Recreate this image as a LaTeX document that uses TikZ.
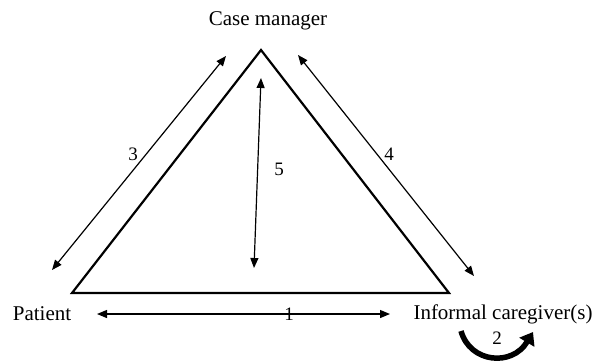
\documentclass[tikz,border=0pt]{standalone}
\usepackage{fontspec}
\setmainfont{Liberation Serif}
\usetikzlibrary{arrows.meta}
\begin{document}
\begin{tikzpicture}[x=1pt,y=-1pt,
  lbl/.style={font=\fontsize{21}{24}\selectfont, inner sep=0pt},
  num/.style={font=\fontsize{19}{22}\selectfont, inner sep=0pt},
  link/.style={line width=1.2pt, {Triangle[length=10pt,width=8pt]}-{Triangle[length=10pt,width=8pt]}},
  tri/.style={line width=2.2pt, line join=miter}]
\useasboundingbox (0,0) rectangle (597,360);
\coordinate (A) at (261,50);
\coordinate (B) at (72,293);
\coordinate (C) at (449,293);
\draw[tri] (A) -- (B) -- (C) -- cycle;
\node[lbl] (cm) at (268,21) {Case manager};
\node[lbl] (pt) at (42,314) {Patient};
\node[lbl] (ic) at (503,314) {Informal caregiver(s)};
\coordinate (a3s) at (52,270);
\coordinate (a3e) at (226,56);
\draw[link] (a3s) -- (a3e);
\node[num] (n3) at (133,154) {3};
\coordinate (a4s) at (298,55);
\coordinate (a4e) at (474,276);
\draw[link] (a4s) -- (a4e);
\node[num] (n4) at (389,154) {4};
\coordinate (a5s) at (261,78);
\coordinate (a5e) at (254,268);
\draw[link] (a5s) -- (a5e);
\node[num] (n5) at (279,169) {5};
\coordinate (a1s) at (97,314);
\coordinate (a1e) at (390,314);
\draw[link] (a1s) -- (a1e);
\node[num] (n1) at (289,314) {1};
\node[num] (n2) at (497,338) {2};
\coordinate (c2s) at (461,331);
\coordinate (c2e) at (533,332);
\draw[line width=5.5pt, -{Triangle[length=12pt,width=17pt]}] (c2s) .. controls (470,363) and (512,367) .. (c2e);
\end{tikzpicture}
\end{document}
